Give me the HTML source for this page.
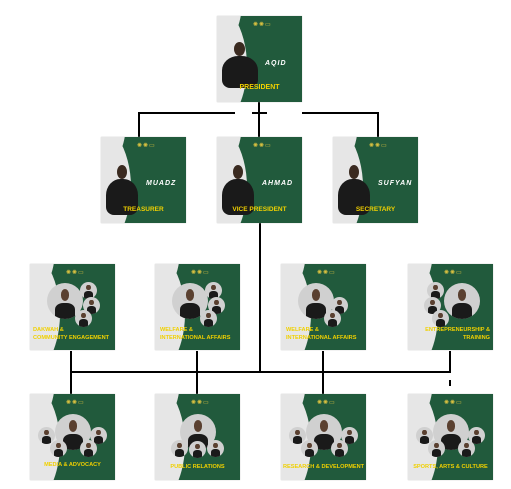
<!DOCTYPE html>
<html><head><meta charset="utf-8"><style>
body{margin:0;width:511px;height:489px;background:#fff;position:relative;overflow:hidden;font-family:"Liberation Sans",sans-serif}
.c{position:absolute;width:85px;height:86px;background:#215a3c;overflow:hidden;box-shadow:0 0 1px #bbb}
.c:before{content:"";position:absolute;left:-60px;top:-20px;width:90px;height:140px;border-radius:50%;background:#e6e6e6}
.c:after{content:"";position:absolute;left:-20px;top:-60px;width:45px;height:90px;border-radius:50%;background:#e6e6e6}
.ic{position:absolute;top:5px;left:36px;font-size:6px;color:#d8c040;letter-spacing:1px;z-index:2}
.p{position:absolute;z-index:2;background:#1a1a1a;border-radius:45% 45% 8px 8px}
.h{position:absolute;z-index:3;background:#3a2a20;border-radius:50%}
.ci{position:absolute;z-index:2;border-radius:50%;background:#d0d0d0;overflow:hidden}
.ci i{position:absolute;left:22%;right:22%;bottom:0;height:45%;background:#1a1a1a;border-radius:40% 40% 0 0}
.ci b{position:absolute;left:38%;width:24%;top:18%;height:32%;background:#5a4030;border-radius:50%}
.t{position:absolute;z-index:4;left:0;right:0;color:#f0d000;font-weight:bold;font-size:5.6px;text-align:center;line-height:8px;white-space:nowrap}
.n{position:absolute;z-index:4;color:#fff;font-style:italic;font-weight:bold;font-size:7px;letter-spacing:1px}
.ln{position:absolute;background:#000}
</style></head><body>
<div class="ln" style="left:139px;top:112px;width:96px;height:2px"></div>
<div class="ln" style="left:252px;top:112px;width:15px;height:2px"></div>
<div class="ln" style="left:302px;top:112px;width:77px;height:2px"></div>
<div class="ln" style="left:258px;top:102px;width:2px;height:35px"></div>
<div class="ln" style="left:138px;top:112px;width:2px;height:25px"></div>
<div class="ln" style="left:377px;top:112px;width:2px;height:25px"></div>
<div class="ln" style="left:259px;top:222px;width:2px;height:150px"></div>
<div class="ln" style="left:70px;top:371px;width:381px;height:2px"></div>
<div class="ln" style="left:70px;top:351px;width:2px;height:43px"></div>
<div class="ln" style="left:196px;top:351px;width:2px;height:43px"></div>
<div class="ln" style="left:322px;top:351px;width:2px;height:43px"></div>
<div class="ln" style="left:449px;top:351px;width:2px;height:22px"></div>
<div class="ln" style="left:449px;top:380px;width:2px;height:6px"></div>

<div class="c" style="left:217px;top:16px"><span class="ic">✺✺▭</span><div class="p" style="left:5px;top:40px;width:36px;height:32px"></div><div class="h" style="left:17px;top:26px;width:11px;height:14px"></div><span class="n" style="left:48px;top:44px">AQID</span><div class="t" style="top:68px;font-size:7px">PRESIDENT</div></div>
<div class="c" style="left:101px;top:137px"><span class="ic">✺✺▭</span><div class="p" style="left:5px;top:42px;width:32px;height:36px"></div><div class="h" style="left:16px;top:28px;width:10px;height:14px"></div><span class="n" style="left:45px;top:43px">MUADZ</span><div class="t" style="top:69px;font-size:6.5px">TREASURER</div></div>
<div class="c" style="left:217px;top:137px"><span class="ic">✺✺▭</span><div class="p" style="left:5px;top:42px;width:32px;height:36px"></div><div class="h" style="left:16px;top:28px;width:10px;height:14px"></div><span class="n" style="left:45px;top:43px">AHMAD</span><div class="t" style="top:69px;font-size:6.5px">VICE PRESIDENT</div></div>
<div class="c" style="left:333px;top:137px"><span class="ic">✺✺▭</span><div class="p" style="left:5px;top:42px;width:32px;height:36px"></div><div class="h" style="left:16px;top:28px;width:10px;height:14px"></div><span class="n" style="left:45px;top:43px">SUFYAN</span><div class="t" style="top:69px;font-size:6.5px">SECRETARY</div></div>

<div class="c" style="left:30px;top:264px"><span class="ic">✺✺▭</span><div class="ci" style="left:17px;top:19px;width:36px;height:36px"><b></b><i></i></div><div class="ci" style="left:50px;top:18px;width:17px;height:17px"><b></b><i></i></div><div class="ci" style="left:53px;top:33px;width:17px;height:17px"><b></b><i></i></div><div class="ci" style="left:45px;top:46px;width:17px;height:17px"><b></b><i></i></div><div class="t" style="top:62px;text-align:left;left:3px">DAKWAH &amp;<br>COMMUNITY ENGAGEMENT</div></div>
<div class="c" style="left:155px;top:264px"><span class="ic">✺✺▭</span><div class="ci" style="left:17px;top:19px;width:36px;height:36px"><b></b><i></i></div><div class="ci" style="left:50px;top:18px;width:17px;height:17px"><b></b><i></i></div><div class="ci" style="left:53px;top:33px;width:17px;height:17px"><b></b><i></i></div><div class="ci" style="left:45px;top:46px;width:17px;height:17px"><b></b><i></i></div><div class="t" style="top:62px;text-align:left;left:5px">WELFARE &amp;<br>INTERNATIONAL AFFAIRS</div></div>
<div class="c" style="left:281px;top:264px"><span class="ic">✺✺▭</span><div class="ci" style="left:17px;top:19px;width:36px;height:36px"><b></b><i></i></div><div class="ci" style="left:50px;top:33px;width:17px;height:17px"><b></b><i></i></div><div class="ci" style="left:43px;top:46px;width:17px;height:17px"><b></b><i></i></div><div class="t" style="top:62px;text-align:left;left:5px">WELFARE &amp;<br>INTERNATIONAL AFFAIRS</div></div>
<div class="c" style="left:408px;top:264px"><span class="ic">✺✺▭</span><div class="ci" style="left:36px;top:19px;width:36px;height:36px"><b></b><i></i></div><div class="ci" style="left:19px;top:18px;width:17px;height:17px"><b></b><i></i></div><div class="ci" style="left:16px;top:33px;width:17px;height:17px"><b></b><i></i></div><div class="ci" style="left:24px;top:46px;width:17px;height:17px"><b></b><i></i></div><div class="t" style="top:62px;text-align:right;right:3px;left:auto">ENTREPRENEURSHIP &amp;<br>TRAINING</div></div>

<div class="c" style="left:30px;top:394px"><span class="ic">✺✺▭</span><div class="ci" style="left:25px;top:20px;width:36px;height:36px"><b></b><i></i></div><div class="ci" style="left:8px;top:33px;width:17px;height:17px"><b></b><i></i></div><div class="ci" style="left:60px;top:33px;width:17px;height:17px"><b></b><i></i></div><div class="ci" style="left:20px;top:46px;width:17px;height:17px"><b></b><i></i></div><div class="ci" style="left:50px;top:46px;width:17px;height:17px"><b></b><i></i></div><div class="t" style="top:67px">MEDIA &amp; ADVOCACY</div></div>
<div class="c" style="left:155px;top:394px"><span class="ic">✺✺▭</span><div class="ci" style="left:25px;top:20px;width:36px;height:36px"><b></b><i></i></div><div class="ci" style="left:16px;top:46px;width:17px;height:17px"><b></b><i></i></div><div class="ci" style="left:34px;top:47px;width:17px;height:17px"><b></b><i></i></div><div class="ci" style="left:52px;top:46px;width:17px;height:17px"><b></b><i></i></div><div class="t" style="top:69px">PUBLIC RELATIONS</div></div>
<div class="c" style="left:281px;top:394px"><span class="ic">✺✺▭</span><div class="ci" style="left:25px;top:20px;width:36px;height:36px"><b></b><i></i></div><div class="ci" style="left:8px;top:33px;width:17px;height:17px"><b></b><i></i></div><div class="ci" style="left:60px;top:33px;width:17px;height:17px"><b></b><i></i></div><div class="ci" style="left:20px;top:46px;width:17px;height:17px"><b></b><i></i></div><div class="ci" style="left:50px;top:46px;width:17px;height:17px"><b></b><i></i></div><div class="t" style="top:69px">RESEARCH &amp; DEVELOPMENT</div></div>
<div class="c" style="left:408px;top:394px"><span class="ic">✺✺▭</span><div class="ci" style="left:25px;top:20px;width:36px;height:36px"><b></b><i></i></div><div class="ci" style="left:8px;top:33px;width:17px;height:17px"><b></b><i></i></div><div class="ci" style="left:60px;top:33px;width:17px;height:17px"><b></b><i></i></div><div class="ci" style="left:20px;top:46px;width:17px;height:17px"><b></b><i></i></div><div class="ci" style="left:50px;top:46px;width:17px;height:17px"><b></b><i></i></div><div class="t" style="top:69px">SPORTS, ARTS &amp; CULTURE</div></div>
</body></html>
